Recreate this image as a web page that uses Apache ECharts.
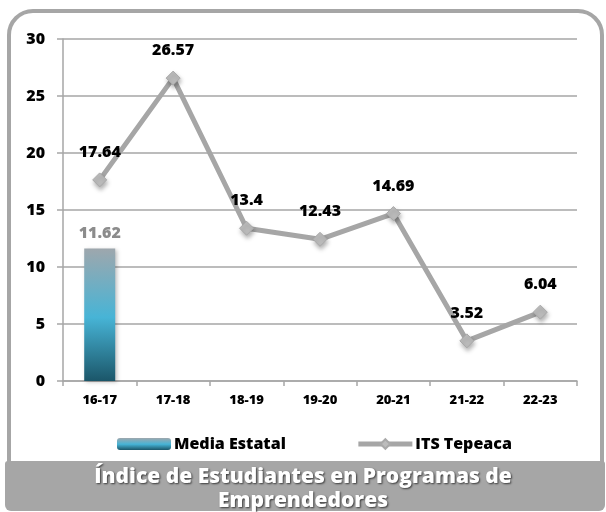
<!DOCTYPE html>
<html>
<head>
<meta charset="utf-8">
<script src="https://cdn.jsdelivr.net/npm/echarts@6/dist/echarts.min.js"></script>
<style>
  html, body { margin: 0; padding: 0; background: #fff; }
  #chart { width: 606px; height: 512px; }
</style>
</head>
<body>
<div id="chart"></div>
<script>
// datos
const categories = ["16-17", "17-18", "18-19", "19-20", "20-21", "21-22", "22-23"];
const mediaEstatal = [11.62, "-", "-", "-", "-", "-", "-"];
const itsTepeaca = [17.64, 26.57, 13.4, 12.43, 14.69, 3.52, 6.04];
const yTicks = { min: 0, max: 30, interval: 5 };

const FONT = "Open Sans";
const GRAY = "#a6a6a6";
const HEAVY = 800;

const chart = echarts.init(document.getElementById("chart"));

// degradado de la barra (gris arriba, azul al centro, verde azulado abajo)
const barGradient = new echarts.graphic.LinearGradient(0, 0, 0, 1, [
  { offset: 0, color: "#9ea7ad" },
  { offset: 0.52, color: "#47b4d6" },
  { offset: 1, color: "#1b5669" },
]);

const option = {
  animation: false,
  textStyle: { fontFamily: FONT },
  graphic: [
    {
      // marco redondeado
      type: "rect",
      z: -10,
      shape: { x: 9, y: 11, width: 593, height: 478, r: 24 },
      style: { fill: "#fff", stroke: GRAY, lineWidth: 4 },
    },
    {
      // banda del título
      type: "rect",
      z: -5,
      shape: { x: 5, y: 461, width: 600, height: 50, r: [3, 3, 6, 6] },
      style: { fill: GRAY },
    },
  ],
  title: {
    text: "Índice de Estudiantes en Programas de\nEmprendedores",
    left: "center",
    top: 465,
    padding: 0,
    textStyle: {
      color: "#fff",
      fontFamily: FONT,
      fontWeight: HEAVY,
      fontSize: 21,
      lineHeight: 24,
      textShadowColor: "rgba(0,0,0,0.65)",
      textShadowBlur: 2,
      textShadowOffsetX: 1,
      textShadowOffsetY: 1,
    },
  },
  legend: {
    left: 117,
    top: 436,
    padding: 0,
    itemWidth: 54,
    itemHeight: 12,
    itemGap: 70,
    lineStyle: { width: 5, color: GRAY },
    textStyle: { color: "#000", fontWeight: HEAVY, fontSize: 16, fontFamily: FONT, padding: [0, 0, 0, -2] },
    data: ["Media Estatal", "ITS Tepeaca"],
  },
  grid: { left: 63, right: 29, top: 39, bottom: 131 },
  xAxis: {
    type: "category",
    data: categories,
    axisLine: { lineStyle: { color: GRAY, width: 1.5 } },
    axisTick: { show: true, length: 5, lineStyle: { color: GRAY, width: 1.5 } },
    axisLabel: { color: "#000", fontWeight: HEAVY, fontSize: 13, margin: 13, fontFamily: FONT },
  },
  yAxis: {
    type: "value",
    min: yTicks.min,
    max: yTicks.max,
    interval: yTicks.interval,
    axisLine: { show: true, lineStyle: { color: GRAY, width: 1.5 } },
    axisTick: { show: true, length: 6, lineStyle: { color: GRAY, width: 1.5 } },
    axisLabel: { color: "#000", fontWeight: HEAVY, fontSize: 16, margin: 18, fontFamily: FONT },
    splitLine: { lineStyle: { color: GRAY, width: 1.5 } },
  },
  series: [
    {
      name: "Media Estatal",
      type: "bar",
      data: mediaEstatal,
      barWidth: 31,
      itemStyle: {
        color: barGradient,
        shadowColor: "rgba(0,0,0,0.25)",
        shadowBlur: 4,
        shadowOffsetX: 2,
        shadowOffsetY: 1,
      },
      label: {
        show: true,
        position: "top",
        distance: 7,
        color: "#8c8c8c",
        fontWeight: HEAVY,
        fontSize: 16,
        fontFamily: FONT,
      },
    },
    {
      name: "ITS Tepeaca",
      type: "line",
      data: itsTepeaca,
      symbol: "diamond",
      symbolSize: 14,
      lineStyle: { color: GRAY, width: 5 },
      itemStyle: {
        color: "#bcbcbc",
        borderColor: "#a9a9a9",
        borderWidth: 1,
        shadowColor: "rgba(0,0,0,0.3)",
        shadowBlur: 4,
        shadowOffsetX: 1,
        shadowOffsetY: 3,
      },
      label: {
        show: true,
        position: "top",
        distance: 12,
        color: "#000",
        fontWeight: HEAVY,
        fontSize: 16,
        fontFamily: FONT,
      },
      z: 3,
    },
  ],
};

chart.setOption(option);
</script>
</body>
</html>
